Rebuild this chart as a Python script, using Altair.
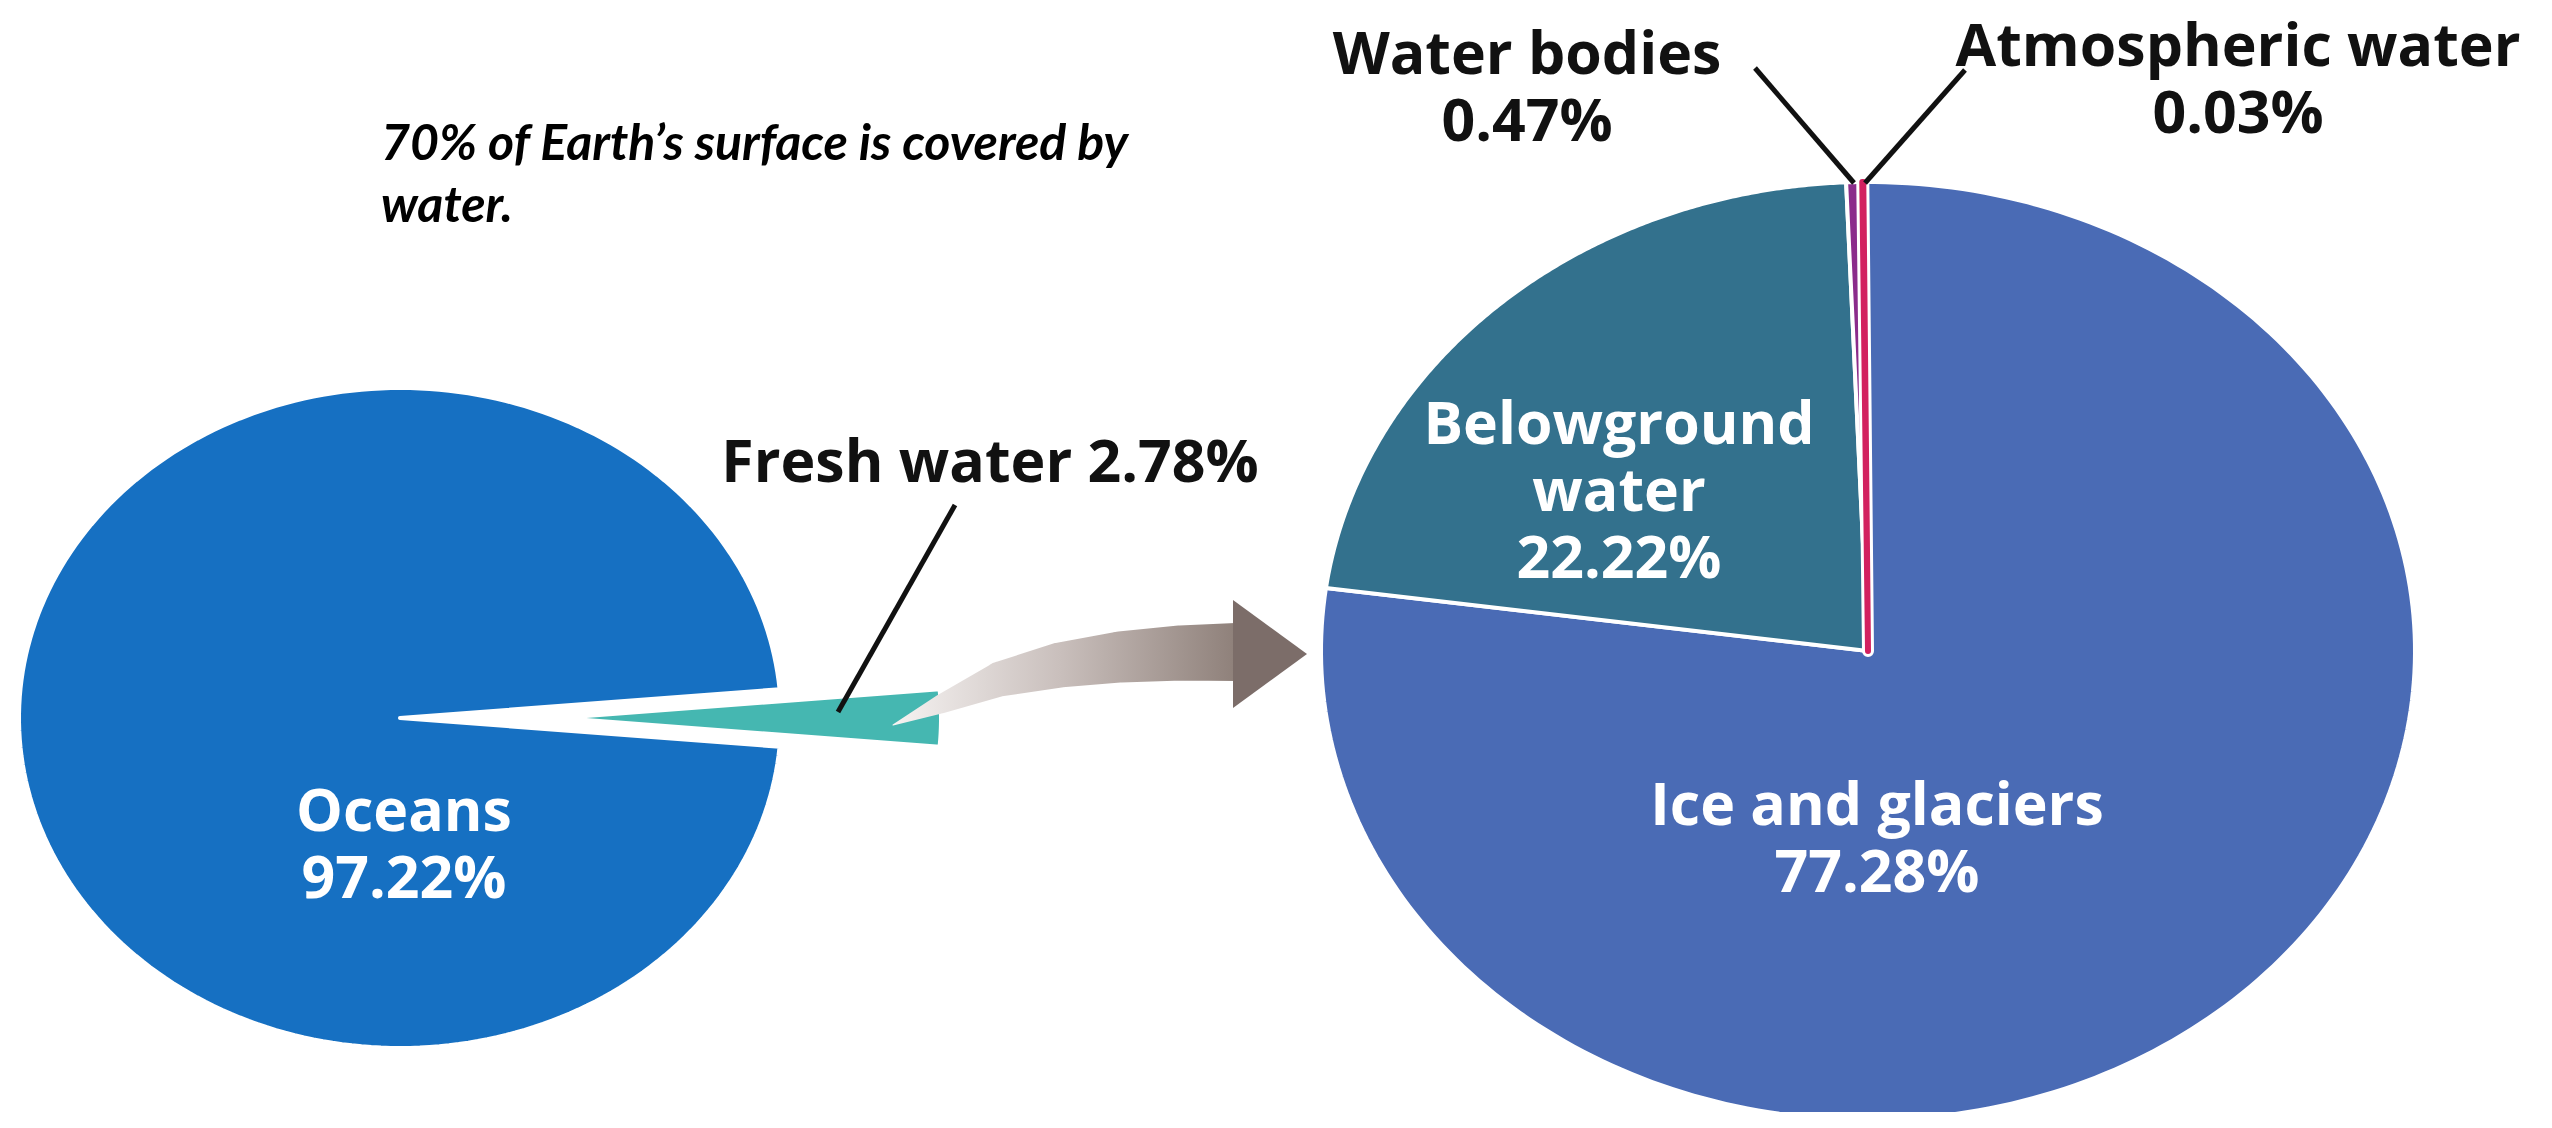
import math
import altair as alt
import pandas as pd

# ---------------- data ----------------
earth_labels = ["Fresh water", "Oceans"]
earth_values = [2.78, 97.22]

fresh_labels = ["Atmospheric water", "Ice and glaciers", "Belowground water", "Water bodies"]
fresh_values = [0.03, 77.28, 22.22, 0.47]

title_lines = ["70% of Earth\u2019s surface is covered by", "water."]

# ---------------- layout & style (reference pixel coordinates) ----------------
W, H = 2536, 1104
OX, OY = 8, 8
XS = alt.Scale(domain=[OX, OX + W], range=[0, W], nice=False, zero=False)
YS = alt.Scale(domain=[OY, OY + H], range=[0, H], nice=False, zero=False)

earth_colors = ["#45b7b1", "#1670c2"]
fresh_colors = ["#d2215f", "#4a6bb5", "#33718d", "#8b2b8b"]
FILL_SCALE = alt.Scale(domain=earth_labels + fresh_labels, range=earth_colors + fresh_colors)

LEFT = dict(cx=400, cy=718, rx=381, ry=330)
RIGHT = dict(cx=1868, cy=651, rx=547, ry=469)
EXPLODE = {"Fresh water": 160}
LEFT_START = 90 - (earth_values[0] / sum(earth_values) * 360) / 2
RIGHT_START = -0.6

LABEL_FONT = "Open Sans"
LABEL_SIZE = 59
LINE_H = 67
LABEL_POS = {
    "Fresh water": (990, 482, "#111111"),
    "Oceans": (404, 831, "white"),
    "Ice and glaciers": (1877, 825, "white"),
    "Belowground water": (1619, 444, "white"),
    "Water bodies": (1527, 74, "#111111"),
    "Atmospheric water": (2238, 66, "#111111"),
}
WRAP = {"Belowground water": "Belowground\nwater"}
INLINE = {"Fresh water"}

LEADERS = [((955, 505), (838, 712)), ((1755, 68), (1854, 183)), ((1965, 70), (1865, 183))]

ARROW_X = [893, 941, 1000, 1060, 1120, 1180, 1236]
ARROW_Y = [725, 704, 679, 665, 657, 653, 652]
ARROW_W = [0, 19, 35, 45, 51, 55, 58]
HEAD = dict(x=1270, y=654, half=54, length=74)

TITLE_POS = (381, 160)


def pie_base(labels, values, geo, start_deg, n=240):
    df = pd.DataFrame({"label": labels, "value": values, "k": list(range(len(labels)))})
    s = math.radians(start_deg)
    ex_expr = " : ".join(
        [f"datum.label == '{k}' ? {v}" for k, v in EXPLODE.items()] + ["0"]
    )
    return (
        alt.Chart(df)
        .transform_window(cum="sum(value)", sort=[alt.SortField("k", order="ascending")])
        .transform_joinaggregate(total="sum(value)")
        .transform_calculate(
            t0=f"{s} + 2*PI*(datum.cum - datum.value)/datum.total",
            t1=f"{s} + 2*PI*datum.cum/datum.total",
            ex=ex_expr,
            i=f"sequence(0, {n + 1})",
        )
        .transform_flatten(["i"])
        .transform_calculate(
            ang=f"datum.t0 + (datum.t1 - datum.t0)*max(datum.i - 1, 0)/{n - 1}",
            rr="datum.i == 0 ? 0 : 1",
        )
        .transform_calculate(
            px=f"{geo['cx']} + datum.ex*sin((datum.t0+datum.t1)/2) + {geo['rx']}*datum.rr*sin(datum.ang)",
            py=f"{geo['cy']} - datum.ex*cos((datum.t0+datum.t1)/2) - {geo['ry']}*datum.rr*cos(datum.ang)",
        )
    )


def pie_fill(labels, values, geo, start_deg):
    return pie_base(labels, values, geo, start_deg).mark_line(
        interpolate="linear-closed", stroke="white", strokeWidth=4, strokeJoin="round"
    ).encode(
        x=alt.X("px:Q", scale=XS, axis=None),
        y=alt.Y("py:Q", scale=YS, axis=None),
        order=alt.Order("i:Q"),
        detail="label:N",
        fill=alt.Fill("label:N", scale=FILL_SCALE, legend=None),
    )


left_pie = pie_fill(earth_labels, earth_values, LEFT, LEFT_START)
right_pie = pie_fill(fresh_labels, fresh_values, RIGHT, RIGHT_START)

# the tiniest slice is emphasised with a white halo and a coloured stroke
tiny = fresh_labels[fresh_values.index(min(fresh_values))]
tiny_color = fresh_colors[fresh_values.index(min(fresh_values))]
halo = pie_base(fresh_labels, fresh_values, RIGHT, RIGHT_START).transform_filter(
    f"datum.label == '{tiny}'"
).mark_line(interpolate="linear-closed", stroke="white", strokeWidth=12, strokeJoin="round").encode(
    x=alt.X("px:Q", scale=XS, axis=None), y=alt.Y("py:Q", scale=YS, axis=None),
    order=alt.Order("i:Q"), detail="label:N")
tiny_line = pie_base(fresh_labels, fresh_values, RIGHT, RIGHT_START).transform_filter(
    f"datum.label == '{tiny}'"
).mark_line(interpolate="linear-closed", stroke=tiny_color, fill=tiny_color, strokeWidth=6, strokeJoin="round").encode(
    x=alt.X("px:Q", scale=XS, axis=None), y=alt.Y("py:Q", scale=YS, axis=None),
    order=alt.Order("i:Q"), detail="label:N")

# curved arrow
arrow_df = pd.DataFrame({"x": ARROW_X, "y": ARROW_Y, "w": ARROW_W, "k": list(range(len(ARROW_X)))})
arrow_body = alt.Chart(arrow_df).mark_trail(
    color=alt.LinearGradient(
        gradient="linear",
        stops=[alt.GradientStop(color="#f6f3f2", offset=0), alt.GradientStop(color="#c9bfbc", offset=0.45),
               alt.GradientStop(color="#85766f", offset=1)],
        x1=0, x2=1, y1=0, y2=0,
    )
).encode(
    x=alt.X("x:Q", scale=XS, axis=None),
    y=alt.Y("y:Q", scale=YS, axis=None),
    size=alt.Size("w:Q", scale=None, legend=None),
    order=alt.Order("k:Q"),
)
a = HEAD["length"] / (2 * HEAD["half"])
head_df = pd.DataFrame({"x": [HEAD["x"]], "y": [HEAD["y"]]})
arrow_head = alt.Chart(head_df).mark_point(
    shape=f"M{-a},-1L{a},0L{-a},1Z", filled=True, opacity=1, color="#7c6d69",
    size=(2 * HEAD["half"]) ** 2, strokeWidth=0,
).encode(x=alt.X("x:Q", scale=XS, axis=None), y=alt.Y("y:Q", scale=YS, axis=None))

# leader lines
lead_df = pd.DataFrame({
    "x": [p[0][0] for p in LEADERS], "y": [p[0][1] for p in LEADERS],
    "x2": [p[1][0] for p in LEADERS], "y2": [p[1][1] for p in LEADERS],
})
leaders = alt.Chart(lead_df).mark_rule(color="#111111", strokeWidth=5).encode(
    x=alt.X("x:Q", scale=XS, axis=None), y=alt.Y("y:Q", scale=YS, axis=None),
    x2="x2:Q", y2="y2:Q",
)

# slice labels
rows = []
for lab, val in list(zip(earth_labels, earth_values)) + list(zip(fresh_labels, fresh_values)):
    x, y, col = LABEL_POS[lab]
    name = WRAP.get(lab, lab)
    txt = f"{name} {val:.2f}%" if lab in INLINE else f"{name}\n{val:.2f}%"
    rows.append({"t": txt, "x": x, "y": y, "c": col})
lab_df = pd.DataFrame(rows)
labels = alt.Chart(lab_df).mark_text(
    font=LABEL_FONT, fontSize=LABEL_SIZE, fontWeight="bold", align="center",
    baseline="alphabetic", lineBreak="\n", lineHeight=LINE_H,
).encode(
    x=alt.X("x:Q", scale=XS, axis=None), y=alt.Y("y:Q", scale=YS, axis=None),
    text="t:N", color=alt.Color("c:N", scale=None),
)

title_df = pd.DataFrame({"t": ["\n".join(title_lines)], "x": [TITLE_POS[0]], "y": [TITLE_POS[1]]})
title = alt.Chart(title_df).mark_text(
    font="Lato", fontSize=50, fontWeight="bold", fontStyle="italic", align="left",
    baseline="alphabetic", lineBreak="\n", lineHeight=62, color="#000000",
).encode(x=alt.X("x:Q", scale=XS, axis=None), y=alt.Y("y:Q", scale=YS, axis=None), text="t:N")

chart = alt.layer(
    left_pie, right_pie, halo, tiny_line, arrow_body, arrow_head, leaders, labels, title
).properties(
    width=W, height=H, padding=0, autosize=alt.AutoSizeParams(type="none"), background="white"
).configure_view(stroke=None)

chart.save("out.html", embed_options={"renderer": "svg", "actions": False})
